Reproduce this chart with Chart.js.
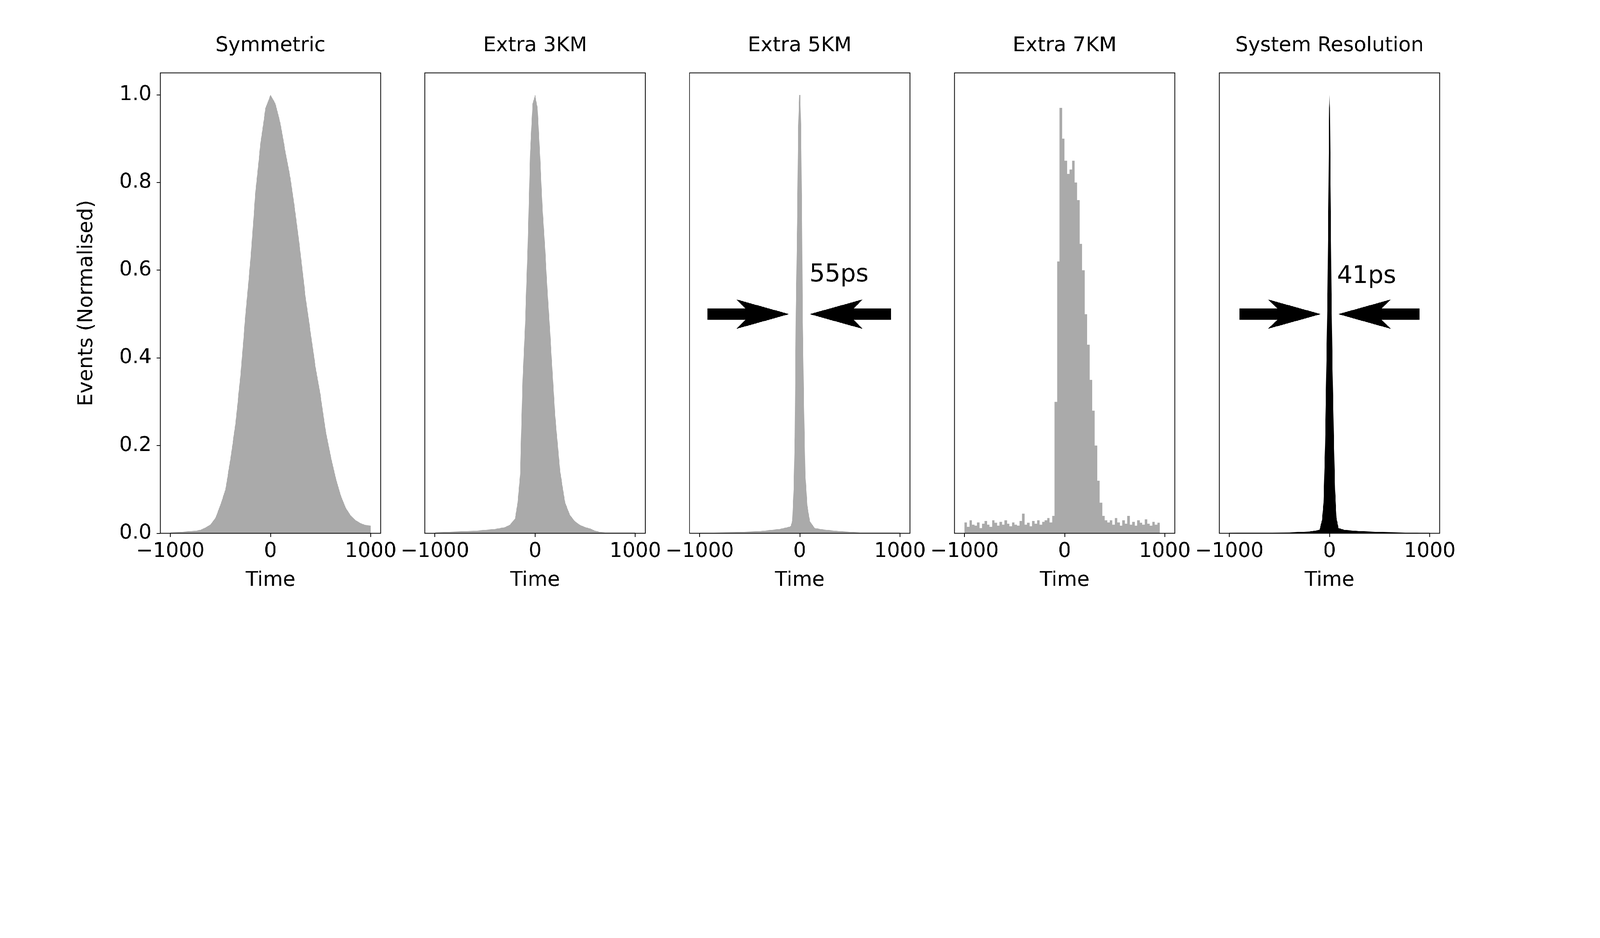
<!DOCTYPE html>
<html>
<head>
<meta charset="utf-8">
<script src="https://cdn.jsdelivr.net/npm/chart.js@4.4.1/dist/chart.umd.min.js"></script>
<style>
  html, body { margin: 0; background: #fff; overflow: hidden; }
  #wrap { position: absolute; left: 0; top: 0; width: 6300px; height: 2400px; transform-origin: 0 0; }
  canvas { position: absolute; top: 0; }
</style>
</head>
<body>
<div id="wrap"></div>
<script>
// panel titles
const titles = ['Symmetric', 'Extra 3KM', 'Extra 5KM', 'Extra 7KM', 'System Resolution'];
const xTicks = [-1000, 0, 1000];
const yTicks = [0, 0.2, 0.4, 0.6, 0.8, 1.0];

// Symmetric (time, normalised events)
const symT = [-1000,-900,-800,-750,-700,-650,-600,-550,-500,-450,-400,-350,-300,-250,-200,-150,-100,-50,0,
  50,100,150,200,250,300,350,400,450,500,550,600,650,700,750,800,850,900,950,1000];
const symY = [0.002,0.003,0.005,0.006,0.008,0.013,0.02,0.035,0.065,0.1,0.17,0.25,0.36,0.5,0.625,0.78,0.89,0.97,1.0,
  0.98,0.935,0.87,0.81,0.73,0.64,0.54,0.46,0.38,0.315,0.236,0.178,0.128,0.088,0.059,0.041,0.03,0.023,0.019,0.018];

// Extra 3KM
const km3T = [-1000,-800,-600,-400,-300,-250,-200,-175,-150,-125,-100,-75,-50,-25,0,25,50,75,100,125,150,175,200,
  225,250,300,350,400,450,500,550,600,650,700,1000];
const km3Y = [0.002,0.004,0.006,0.01,0.014,0.02,0.034,0.07,0.135,0.35,0.48,0.65,0.87,0.98,1.0,0.97,0.86,0.74,0.65,
  0.55,0.46,0.365,0.27,0.207,0.142,0.07,0.041,0.027,0.019,0.014,0.011,0.006,0.003,0.002,0.002];

// Extra 5KM
const km5T = [-1000,-600,-400,-200,-100,-90,-74,-61,-50,-40,-26,-15,-5,5,13,23,29,44,56,76,103,150,232,394,600,1000];
const km5Y = [0.001,0.003,0.005,0.01,0.015,0.017,0.03,0.1,0.22,0.503,0.71,0.93,1.0,1.0,0.93,0.71,0.503,0.28,0.135,
  0.063,0.027,0.012,0.009,0.005,0.002,0.002];

// Extra 7KM, 25ps bins starting at -1000
const km7Y = [
  0.02,0.025,0.015,0.03,0.02,0.018,0.025,0.012,0.022,0.028,0.02,0.015,0.03,0.024,0.018,0.026,0.02,0.03,0.022,0.016,
  0.025,0.02,0.018,0.028,0.045,0.02,0.024,0.016,0.028,0.022,0.03,0.02,0.026,0.03,0.035,0.025,0.04,
  0.3,0.62,0.97,0.9,0.85,0.82,0.83,0.85,0.8,0.76,0.66,0.6,0.5,0.43,0.35,0.28,0.2,0.12,0.07,0.04,0.03,
  0.025,0.03,0.02,0.035,0.025,0.018,0.03,0.022,0.04,0.02,0.026,0.018,0.03,0.024,0.02,0.032,0.022,0.018,0.026,0.02,0.024
];
const km7T = km7Y.map((_, i) => -1000 + 25 * i);

// System Resolution
const sysT = [-1000,-400,-200,-100,-75,-60,-45,-30,-20,-10,-4,0,4,10,20,30,45,55,70,90,150,300,500,700,900,1000];
const sysY = [0.001,0.002,0.004,0.008,0.03,0.07,0.2,0.4,0.55,0.8,0.97,1.0,0.97,0.8,0.55,0.38,0.2,0.1,0.035,0.012,
  0.008,0.005,0.003,0.002,0.001,0.001];

// FWHM annotations: [panel, label, labelX, labelY, leftArrow[tail,junction,barb,tip], rightArrow[...]]
const notes = [
  [2, '55ps', 96, 0.574, [-920, -542, -633, -106], [911, 539, 628, 99]],
  [4, '41ps', 74, 0.571, [-898, -519, -616, -87], [898, 519, 613, 87]]
];

const series = [
  [symT, symY, '#aaaaaa', false],
  [km3T, km3Y, '#aaaaaa', false],
  [km5T, km5Y, '#aaaaaa', false],
  [km7T, km7Y, '#aaaaaa', 'after'],
  [sysT, sysY, '#000000', false]
];

const plotLefts = [631, 1673, 2715, 3758, 4801];
const plotW = 868, plotTop = 287, plotBottom = 2099, M = 420;
const FONT = '"DejaVu Sans", sans-serif';

// fit the 6300x2400 layout to whatever the window really is
const wrap = document.getElementById('wrap');
const scale = Math.min(window.innerWidth / 6300, window.innerHeight / 2400) || 1;
wrap.style.transform = 'scale(' + scale + ')';
const dpr = Math.max(1, (window.devicePixelRatio || 1) * scale);

const drawExtras = {
  id: 'extras',
  afterDraw(chart, args, opts) {
    const c = chart.ctx, a = chart.chartArea;
    const xs = chart.scales.x, ys = chart.scales.y;
    c.save();
    c.strokeStyle = '#000';
    c.lineWidth = 3;
    c.strokeRect(a.left, a.top, a.right - a.left, a.bottom - a.top);
    c.fillStyle = '#000';
    c.font = '80px ' + FONT;
    c.textAlign = 'center';
    c.textBaseline = 'middle';
    const cx = (a.left + a.right) / 2;
    c.fillText(titles[opts.idx], cx, 181);
    c.fillText('Time', cx, 2285);
    if (opts.idx === 0) {
      c.save();
      c.translate(342 - (plotLefts[0] - M), (a.top + a.bottom) / 2);
      c.rotate(-Math.PI / 2);
      c.fillText('Events (Normalised)', 0, 0);
      c.restore();
    }
    notes.filter(n => n[0] === opts.idx).forEach(n => {
      const yc = ys.getPixelForValue(0.5);
      [n[4], n[5]].forEach(ar => {
        const [tail, junc, barb, tip] = ar.map(v => xs.getPixelForValue(v));
        c.beginPath();
        c.moveTo(tail, yc - 22);
        c.lineTo(junc, yc - 22);
        c.lineTo(barb, yc - 58);
        c.lineTo(tip, yc);
        c.lineTo(barb, yc + 58);
        c.lineTo(junc, yc + 22);
        c.lineTo(tail, yc + 22);
        c.closePath();
        c.fill();
      });
      c.font = '96px ' + FONT;
      c.textAlign = 'left';
      c.textBaseline = 'alphabetic';
      c.fillText(n[1], xs.getPixelForValue(n[2]), ys.getPixelForValue(n[3]));
    });
    c.restore();
  }
};

series.forEach((s, i) => {
  const cv = document.createElement('canvas');
  cv.style.left = (plotLefts[i] - M) + 'px';
  cv.style.width = (plotW + 2 * M) + 'px';
  cv.style.height = '2400px';
  cv.width = plotW + 2 * M;
  cv.height = 2400;
  wrap.appendChild(cv);
  const [t, y, color, stepped] = s;
  new Chart(cv, {
    type: 'line',
    data: {
      datasets: [{
        data: t.map((v, k) => ({ x: v, y: y[k] })),
        borderWidth: 0,
        borderColor: color,
        backgroundColor: color,
        fill: 'origin',
        pointRadius: 0,
        stepped: stepped,
        tension: 0
      }]
    },
    plugins: [drawExtras],
    options: {
      responsive: false,
      animation: false,
      devicePixelRatio: dpr,
      layout: { padding: { top: plotTop, right: M, left: 0, bottom: 0 } },
      plugins: { legend: { display: false }, tooltip: { enabled: false }, title: { display: false }, extras: { idx: i } },
      scales: {
        x: {
          type: 'linear',
          min: -1100, max: 1100,
          afterBuildTicks: sc => { sc.ticks = xTicks.map(v => ({ value: v })); },
          afterFit: sc => { sc.height = 2400 - plotBottom; },
          grid: { display: true, drawOnChartArea: false, drawTicks: true, tickLength: 14, tickWidth: 3, tickColor: '#000' },
          border: { display: false },
          ticks: {
            color: '#000', padding: 10, maxRotation: 0, autoSkip: false,
            font: { family: FONT, size: 80 },
            callback: v => String(v).replace('-', '\u2212')
          }
        },
        y: {
          min: 0, max: 1.05,
          afterBuildTicks: sc => { sc.ticks = i === 0 ? yTicks.map(v => ({ value: v })) : []; },
          afterFit: sc => { sc.width = M; },
          grid: { display: i === 0, drawOnChartArea: false, drawTicks: true, tickLength: 14, tickWidth: 3, tickColor: '#000' },
          border: { display: false },
          ticks: {
            display: i === 0, color: '#000', padding: 20,
            font: { family: FONT, size: 80 },
            callback: v => v.toFixed(1)
          }
        }
      }
    }
  });
});
</script>
</body>
</html>
